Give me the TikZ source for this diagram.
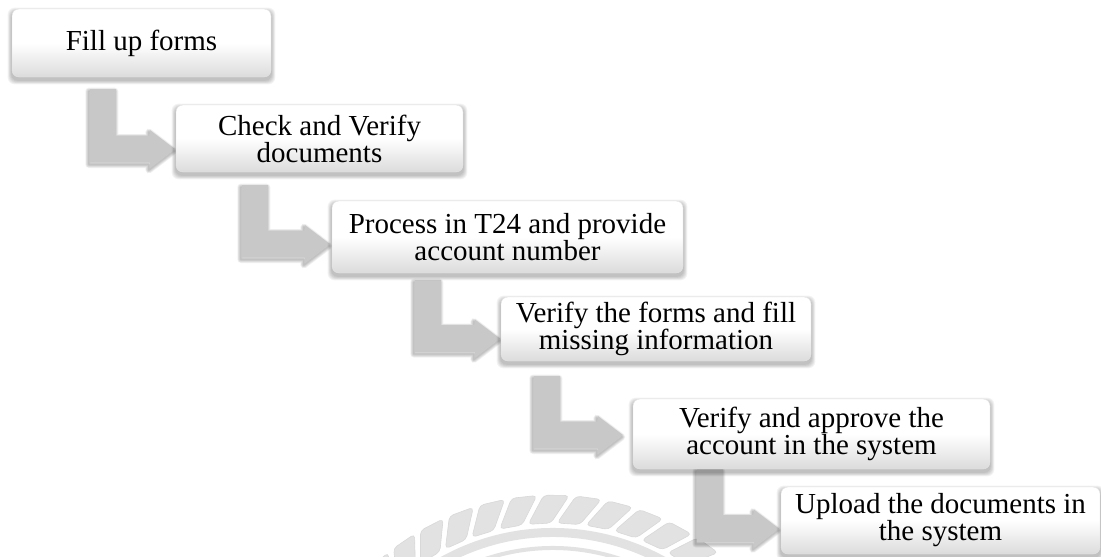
\documentclass[tikz,border=0pt]{standalone}
\usepackage{fontspec}
\setmainfont{Liberation Serif}
\usetikzlibrary{calc}
\pgfdeclarelayer{background}
\pgfsetlayers{background,main}
\definecolor{arrowgray}{RGB}{200,200,200}
\definecolor{markgray}{RGB}{226,226,226}
\definecolor{markline}{RGB}{216,216,216}

% Soft drop shadow under a step box: stacked translucent rounded rectangles.
\newcommand\boxshadow[1]{%
  \foreach \k in {1,...,6}{%
    \fill[black, opacity=0.045, rounded corners=7pt]
      ($(#1.south west)+(-0.7*\k pt,-3pt-0.7*\k pt)$) rectangle
      ($(#1.north east)+(0.7*\k pt,-3pt+0.7*\k pt)$);}}

% Bent (L-shaped) block arrow from under one step to the left side of the next.
% #1 source, #2 target, #3 bar offset left of target, #4 gap under source,
% #5 gap before target, #6 shaft drop below target centre
\newcommand\bendarrow[6]{%
  \path let \p1=(#1.south), \p2=(#2.west) in
    (\x2-#3, \y1-#4) coordinate (#1#2a)
    (\x2-#3+26pt, \y1-#4) coordinate (#1#2b)
    (\x2-#3+26pt, \y2-#6+13.5pt) coordinate (#1#2c)
    (\x2-#5-25pt, \y2-#6+13.5pt) coordinate (#1#2d)
    (\x2-#5-25pt, \y2-#6+19pt) coordinate (#1#2e)
    (\x2-#5, \y2-#6) coordinate (#1#2f)
    (\x2-#5-25pt, \y2-#6-19pt) coordinate (#1#2g)
    (\x2-#5-25pt, \y2-#6-13.5pt) coordinate (#1#2h)
    (\x2-#3, \y2-#6-13.5pt) coordinate (#1#2i);
  \foreach \k in {5,4,3,2,1}{%
    \draw[black, draw opacity=0.05, line width=1.4*\k pt, line join=round,
          transform canvas={xshift=-1pt, yshift=-2pt}]
      (#1#2a) -- (#1#2b) -- (#1#2c) -- (#1#2d) -- (#1#2e) -- (#1#2f)
      -- (#1#2g) -- (#1#2h) -- (#1#2i) -- cycle;}
  \fill[arrowgray]
      (#1#2a) -- (#1#2b) -- (#1#2c) -- (#1#2d) -- (#1#2e) -- (#1#2f)
      -- (#1#2g) -- (#1#2h) -- (#1#2i) -- cycle;}

\begin{document}
\begin{tikzpicture}[x=1pt,y=-1pt,
  stepbox/.style={rounded corners=7pt, draw=black!10, line width=0.4pt,
    top color=white, bottom color=black!14, middle color=white,
    align=center, inner sep=0pt, font=\fontsize{29}{27}\selectfont},
  leaf/.style={fill=markgray, draw=markline, line width=0.6pt,
    rounded corners=4pt},
  ring/.style={draw=markgray},
]
\useasboundingbox (0,0) rectangle (1101,557);

\begin{pgfonlayer}{background}
  \fill[white] (0,0) rectangle (1101,557);
  % faint emblem behind the last steps: a wreath of slanted leaves over two rings
  \begin{scope}[shift={(553,760)}]
    \foreach \a in {40,47,...,145}{%
      \filldraw[leaf] (\a:237pt) -- (\a-5.5:237pt) -- (\a-9.5:265pt)
        -- (\a-4:265pt) -- cycle;}
    \draw[ring, line width=9pt]
      (30:227.5pt) arc[start angle=30, end angle=150, radius=227.5pt];
    \draw[ring, line width=4pt]
      (30:212pt) arc[start angle=30, end angle=150, radius=212pt];
  \end{scope}
\end{pgfonlayer}

% process steps
\node[stepbox, minimum width=259pt, minimum height=68pt] (s1) at (141.5,43)
  {Fill up forms};
\node[stepbox, minimum width=287pt, minimum height=67pt] (s2) at (319.5,138.5)
  {Check and Verify\\documents};
\node[stepbox, minimum width=351pt, minimum height=72pt] (s3) at (507.5,237)
  {Process in T24 and provide\\account number};
\node[stepbox, minimum width=310pt, minimum height=64pt] (s4) at (656,329)
  {Verify the forms and fill\\missing information};
\node[stepbox, minimum width=357pt, minimum height=70pt] (s5) at (811.5,434)
  {Verify and approve the\\account in the system};
\node[stepbox, minimum width=319pt, minimum height=67pt] (s6) at (940.5,520.5)
  {Upload the documents in\\the system};

% connectors and shadows, kept behind the steps
\begin{pgfonlayer}{background}
  \bendarrow{s1}{s2}{86pt}{12pt}{1pt}{10.5pt}
  \bendarrow{s2}{s3}{90pt}{13pt}{2pt}{7pt}
  \bendarrow{s3}{s4}{86pt}{7pt}{1pt}{9.5pt}
  \bendarrow{s4}{s5}{99pt}{15pt}{10pt}{1pt}
  \bendarrow{s5}{s6}{84pt}{0pt}{2pt}{8pt}
  \foreach \s in {s1,s2,s3,s4,s5,s6}{\boxshadow{\s}}
\end{pgfonlayer}
\end{tikzpicture}
\end{document}
